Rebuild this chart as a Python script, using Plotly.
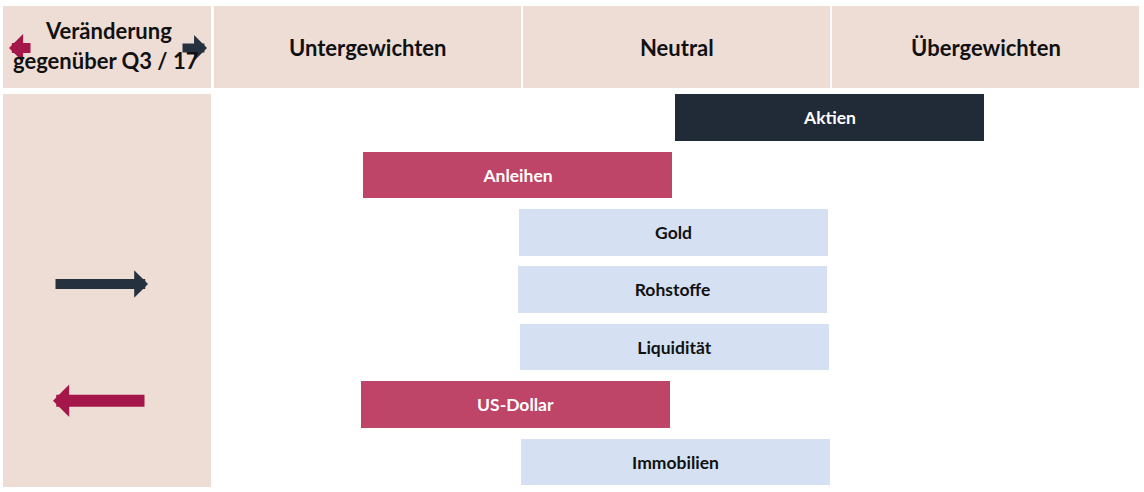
import plotly.graph_objects as go

# ---- data ----
assets = ["Aktien", "Anleihen", "Gold", "Rohstoffe", "Liquidität", "US-Dollar", "Immobilien"]
position = [1.994, 0.985, 1.49, 1.487, 1.493, 0.98, 1.497]   # centre of each bar on 0..3 scale
stance = ["Übergewichten", "Untergewichten", "Neutral", "Neutral", "Neutral", "Untergewichten", "Neutral"]
change = [0, 0, 0, 1, 0, -1, 0]   # change vs Q3/17 (+1 up, -1 down)
columns = ["Untergewichten", "Neutral", "Übergewichten"]
header_left = ["Veränderung", "gegenüber Q3 / 17"]

# ---- styles ----
W, H = 1144, 492
PINK = "#EEDDD5"
NAVY = "#212B38"
CRIMSON_BAR = "#BE4468"
LIGHT = "#D5E1F3"
ARROW_NAVY = "#263140"
ARROW_CRIMSON = "#A5174A"
FONT = "Lato, 'Open Sans', sans-serif"
bar_color = {"Übergewichten": NAVY, "Untergewichten": CRIMSON_BAR, "Neutral": LIGHT}
text_color = {"Übergewichten": "white", "Untergewichten": "white", "Neutral": "#111111"}

def px_x(p):
    return p / W

def px_y(p):
    return (H - p) / H

BAR_LEN = 1.0
fig = go.Figure()
fig.add_trace(go.Bar(
    y=assets,
    x=[BAR_LEN] * len(assets),
    base=[p - BAR_LEN / 2 for p in position],
    orientation="h",
    width=0.81,
    marker=dict(color=[bar_color[s] for s in stance], line=dict(width=0)),
    text=[f"<b>{a}</b>" for a in assets],
    textposition="inside",
    insidetextanchor="middle",
    textangle=0,
    textfont=dict(family=FONT, size=17.5, color=[text_color[s] for s in stance]),
    hoverinfo="skip",
))

shapes = []
# header left cell
shapes.append(dict(type="rect", xref="paper", yref="paper", x0=px_x(3), x1=px_x(211),
                   y0=px_y(88), y1=px_y(6), fillcolor=PINK, line=dict(width=0), layer="below"))
# header columns
for i, _ in enumerate(columns):
    shapes.append(dict(type="rect", xref="x", yref="paper", x0=i + 0.003, x1=i + 1 - 0.003,
                       y0=px_y(88), y1=px_y(6), fillcolor=PINK, line=dict(width=0), layer="below"))
# body left cell
shapes.append(dict(type="rect", xref="paper", yref="paper", x0=px_x(3), x1=px_x(211),
                   y0=px_y(487), y1=px_y(94), fillcolor=PINK, line=dict(width=0), layer="below"))

annotations = []
# change arrows in left column
for a, c in zip(assets, change):
    if c > 0:
        annotations.append(dict(xref="paper", yref="y", x=px_x(148), y=a, ax=-94, ay=0,
                                axref="pixel", ayref="pixel", yshift=6, text="", showarrow=True,
                                arrowhead=1, arrowwidth=10, arrowsize=0.46, arrowcolor=ARROW_NAVY,
                                standoff=0, startstandoff=0))
    elif c < 0:
        annotations.append(dict(xref="paper", yref="y", x=px_x(53), y=a, ax=93, ay=0,
                                axref="pixel", ayref="pixel", yshift=4, text="", showarrow=True,
                                arrowhead=1, arrowwidth=12, arrowsize=0.45, arrowcolor=ARROW_CRIMSON,
                                standoff=0, startstandoff=0))
# header legend arrows
annotations.append(dict(xref="paper", yref="paper", x=px_x(9), y=px_y(48), ax=23, ay=0,
                        text="", showarrow=True, arrowhead=1, arrowwidth=10, arrowsize=0.47,
                        arrowcolor=ARROW_CRIMSON, standoff=0))
annotations.append(dict(xref="paper", yref="paper", x=px_x(207), y=px_y(48), ax=-26, ay=0,
                        text="", showarrow=True, arrowhead=1, arrowwidth=9, arrowsize=0.48,
                        arrowcolor=ARROW_NAVY, standoff=0))
# header texts
annotations.append(dict(xref="paper", yref="paper", x=px_x(108), y=px_y(31), text=f"<b>{header_left[0]}</b>",
                        xanchor="center", yanchor="middle",
                        showarrow=False, font=dict(family=FONT, size=22, color="#111111")))
annotations.append(dict(xref="paper", yref="paper", x=px_x(106), y=px_y(60), text=f"<b>{header_left[1]}</b>",
                        xanchor="center", yanchor="middle",
                        showarrow=False, font=dict(family=FONT, size=22, color="#111111")))
for i, col in enumerate(columns):
    annotations.append(dict(xref="x", yref="paper", x=i + 0.5, y=px_y(47.5), text=f"<b>{col}</b>",
                            xanchor="center", yanchor="middle",
                            showarrow=False, font=dict(family=FONT, size=22, color="#111111")))

fig.update_layout(
    width=W, height=H,
    margin=dict(l=0, r=0, t=0, b=0),
    paper_bgcolor="white", plot_bgcolor="white",
    showlegend=False,
    bargap=0,
    xaxis=dict(domain=[px_x(213), px_x(1140)], range=[0, 3], visible=False, fixedrange=True),
    yaxis=dict(domain=[px_y(490.7), px_y(89.3)], categoryorder="array", categoryarray=assets,
               range=[len(assets) - 0.5, -0.5], visible=False, fixedrange=True),
    shapes=shapes,
    annotations=annotations,
    uniformtext=dict(minsize=10, mode="show"),
)

fig.write_html("out.html")
